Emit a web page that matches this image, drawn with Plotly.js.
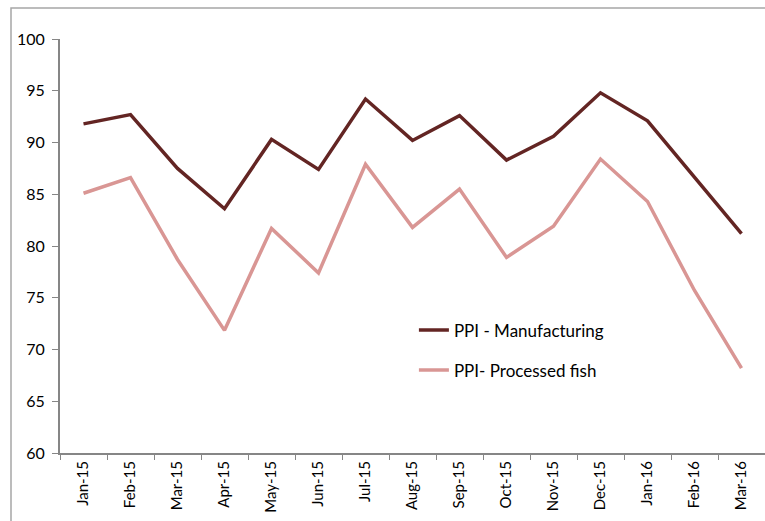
<!DOCTYPE html>
<html>
<head>
<meta charset="utf-8">
<script src="https://cdn.plot.ly/plotly-3.0.1.min.js"></script>
<style>
html,body{margin:0;padding:0;background:#fff;}
#chart{width:765px;height:521px;}
</style>
</head>
<body>
<div id="chart"></div>
<script>
const months = ["Jan-15","Feb-15","Mar-15","Apr-15","May-15","Jun-15","Jul-15","Aug-15","Sep-15","Oct-15","Nov-15","Dec-15","Jan-16","Feb-16","Mar-16"];
const manufacturing = [91.8,92.7,87.5,83.6,90.3,87.4,94.2,90.2,92.6,88.3,90.6,94.8,92.1,86.7,81.2];
const processedFish = [85.1,86.6,78.7,71.85,81.7,77.4,87.9,81.8,85.5,78.9,81.9,88.4,84.3,75.7,68.2];
const yTicks = [60,65,70,75,80,85,90,95,100];

const font = "Lato, 'Open Sans', sans-serif";
const traces = [
  {x: months, y: manufacturing, type: "scatter", mode: "lines", name: "PPI - Manufacturing",
   line: {color: "#632523", width: 3.5}, legendgroup: "a"},
  {x: months, y: processedFish, type: "scatter", mode: "lines", name: "PPI- Processed fish",
   line: {color: "#D99694", width: 3.5}, legendgroup: "b"}
];
const layout = {
  width: 765, height: 521,
  margin: {l: 60, r: 0, t: 39, b: 68},
  paper_bgcolor: "#fff", plot_bgcolor: "#fff",
  font: {family: font, size: 15, color: "#000"},
  showlegend: true,
  legend: {x: 0.502, y: 0.248, xanchor: "left", yanchor: "middle", bgcolor: "rgba(0,0,0,0)",
           font: {family: font, size: 17, color: "#000"}, tracegroupgap: 15, traceorder: "grouped"},
  xaxis: {type: "category", tickson: "boundaries", ticks: "outside", ticklen: 5, tickcolor: "#868686",
          showline: true, linecolor: "#868686", linewidth: 2, showgrid: false, zeroline: false,
          tickangle: -90, tickfont: {family: font, size: 15}, range: [-0.5, 14.5], fixedrange: true},
  yaxis: {range: [60, 100], tickvals: yTicks, ticktext: yTicks.map(String), ticks: "outside", ticklen: 6,
          tickcolor: "#868686", showline: true, linecolor: "#868686", linewidth: 2, showgrid: false,
          zeroline: false, tickfont: {family: font, size: 16}, ticklabelstandoff: 4},
  shapes: [{type: "rect", xref: "paper", yref: "paper", x0: -0.0695, x1: 1.05, y0: -0.3, y1: 1.0749,
            line: {color: "#a6a6a6", width: 1.5}, fillcolor: "rgba(0,0,0,0)", layer: "below"}]
};
Plotly.newPlot("chart", traces, layout, {displayModeBar: false, staticPlot: true});
</script>
</body>
</html>
